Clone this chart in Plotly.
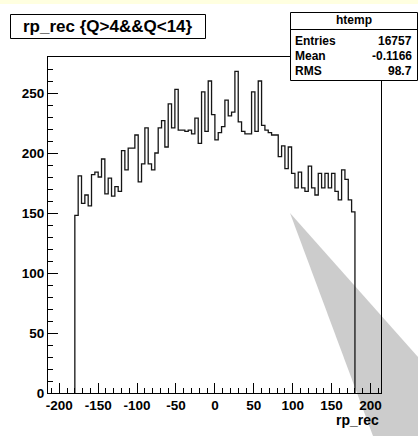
import numpy as np
import plotly.graph_objects as go

# Histogram contents (htemp, rp_rec with cut Q>4&&Q<14)
counts = [148, 181, 158, 165, 156, 182, 184, 180, 195, 166, 179, 164, 172, 168,
          202, 186, 204, 204, 215, 176, 191, 221, 191, 186, 200, 221, 227, 205,
          241, 221, 253, 219, 219, 218, 219, 216, 229, 208, 251, 218, 260, 232,
          211, 217, 222, 244, 231, 234, 268, 226, 218, 216, 216, 251, 218, 260,
          223, 219, 217, 215, 215, 197, 206, 187, 205, 183, 171, 184, 171, 168,
          189, 171, 165, 183, 171, 183, 171, 183, 168, 161, 186, 178, 161, 151]
x_lo, x_hi = -180.0, 180.0

x_ticks = [-200, -150, -100, -50, 0, 50, 100, 150, 200]
x_tick_labels = ["-200", "-150", "-100", "-50", "0", "50", "100", "150", "200"]
y_ticks = [0, 50, 100, 150, 200, 250]
y_tick_labels = ["0", "50", "100", "150", "200", "250"]

title_text = "rp_rec {Q>4&&Q<14}"
x_title = "rp_rec"
stats_name = "htemp"
stats_labels = ["Entries", "Mean", "RMS"]
stats_values = ["16757", "-0.1166", "98.7"]

# canvas / frame geometry in pixels
W, H = 418, 436
L, R, T, B = 48, 381, 57, 393


def px(x):
    return (x - L) / (R - L)


def py(y):
    return (B - y) / (B - T)


edges = np.linspace(x_lo, x_hi, len(counts) + 1)
xs = [edges[0]] + list(edges) + [edges[-1]]
ys = [0] + list(counts) + [counts[-1], 0]

FONT = "Liberation Sans"

fig = go.Figure()
fig.add_trace(go.Scatter(
    x=xs, y=ys, mode="lines", line=dict(shape="hv", color="#151515", width=1.3),
    hoverinfo="skip", showlegend=False))

axis_common = dict(
    showgrid=False, zeroline=False, showline=True, linecolor="black", linewidth=1,
    mirror=True, ticks="inside", ticklen=10, tickwidth=1, tickcolor="black",
    tickfont=dict(family=FONT, size=13.5, color="black", weight="bold"),
    tickmode="array",
)

fig.update_xaxes(
    **axis_common, range=[-214.5, 213.5], tickvals=x_ticks, ticktext=x_tick_labels,
    minor=dict(tickmode="linear", tick0=0, dtick=10, ticks="inside", ticklen=5,
               tickcolor="black", tickwidth=1))
fig.update_yaxes(
    **axis_common, range=[0, (B - T) / 1.2], tickvals=y_ticks, ticktext=y_tick_labels,
    minor=dict(tickmode="linear", tick0=0, dtick=10, ticks="inside", ticklen=5,
               tickcolor="black", tickwidth=1))

shapes = []
# pale top strip of the canvas
shapes.append(dict(type="rect", xref="paper", yref="paper",
                   x0=px(0), x1=px(W), y0=py(0), y1=py(4),
                   fillcolor="#ffffe0", line=dict(width=0), layer="below"))
# grey wedge across the lower right
wedge = [(290, 213), (373, 436), (418, 436), (418, 357)]
path = "M " + " L ".join(f"{px(a):.5f},{py(b):.5f}" for a, b in wedge) + " Z"
shapes.append(dict(type="path", xref="paper", yref="paper", path=path,
                   fillcolor="#cccccc", line=dict(width=0), layer="below"))
# title box
shapes.append(dict(type="rect", xref="paper", yref="paper",
                   x0=px(10.5), x1=px(205.5), y0=py(14.5), y1=py(38.5),
                   fillcolor="white", line=dict(color="black", width=1)))
# stats box
shapes.append(dict(type="rect", xref="paper", yref="paper",
                   x0=px(290.5), x1=px(417.5), y0=py(12.5), y1=py(80.5),
                   fillcolor="white", line=dict(color="black", width=1)))
shapes.append(dict(type="line", xref="paper", yref="paper",
                   x0=px(290.5), x1=px(417.5), y0=py(29.5), y1=py(29.5),
                   line=dict(color="black", width=1)))

annotations = []
annotations.append(dict(xref="paper", yref="paper", x=px(108), y=py(26.5),
                        text=title_text, showarrow=False, xanchor="center", yanchor="middle",
                        font=dict(family=FONT, size=17, color="black", weight="bold")))
annotations.append(dict(xref="paper", yref="paper", x=px(354), y=py(20),
                        text=stats_name, showarrow=False, xanchor="center", yanchor="middle",
                        font=dict(family=FONT, size=12, color="black", weight="bold")))
for i, (lab, val) in enumerate(zip(stats_labels, stats_values)):
    yy = 41 + 15 * i
    annotations.append(dict(xref="paper", yref="paper", x=px(293), y=py(yy),
                            text=lab, showarrow=False, xanchor="left", yanchor="middle",
                            font=dict(family=FONT, size=12, color="black", weight="bold")))
    annotations.append(dict(xref="paper", yref="paper", x=px(414), y=py(yy),
                            text=val, showarrow=False, xanchor="right", yanchor="middle",
                            font=dict(family=FONT, size=12, color="black", weight="bold")))
annotations.append(dict(xref="paper", yref="paper", x=px(381), y=py(420),
                        text=x_title, showarrow=False, xanchor="right", yanchor="middle",
                        font=dict(family=FONT, size=14, color="black", weight="bold")))

fig.update_layout(
    width=W, height=H, margin=dict(l=L, r=W - R, t=T, b=H - B, pad=0),
    paper_bgcolor="white", plot_bgcolor="rgba(0,0,0,0)",
    shapes=shapes, annotations=annotations, showlegend=False,
)

fig.write_html("out.html")
